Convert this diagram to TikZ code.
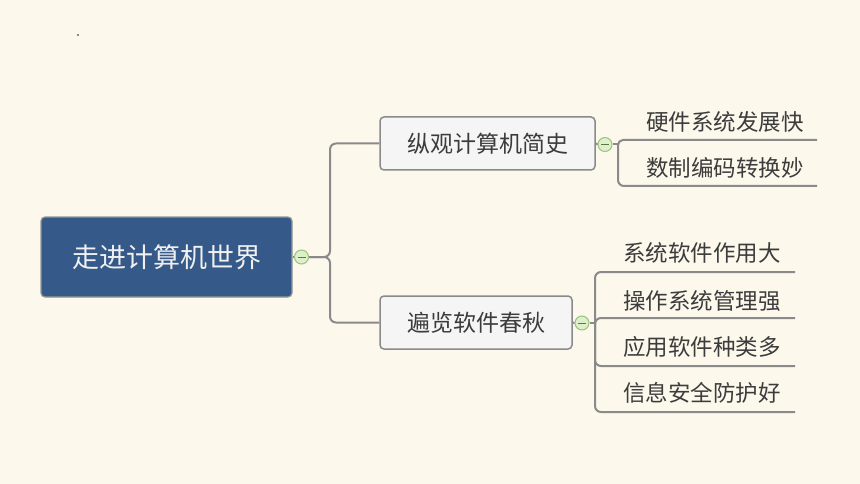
\documentclass[tikz,border=0pt]{standalone}
\usepackage{fontspec}
\setmainfont{Noto Sans CJK SC}
\definecolor{bg}{HTML}{FDF8EC}
\definecolor{rootblue}{HTML}{355A89}
\definecolor{linegray}{HTML}{8A8A8A}
\definecolor{boxfill}{HTML}{F5F5F5}
\definecolor{txt}{HTML}{3C3C3C}
\definecolor{cfill}{HTML}{DDEFCB}
\definecolor{cborder}{HTML}{9CC27C}
\begin{document}
\begin{tikzpicture}[x=1pt,y=-1pt,
  rootbox/.style={draw=linegray!90, line width=1.2pt, fill=rootblue, rounded corners=4pt,
    minimum width=251pt, minimum height=80pt, text=white!94!black,
    font=\fontsize{27}{32}\selectfont, inner sep=0pt},
  topicbox/.style={draw=linegray, line width=1.5pt, fill=boxfill, rounded corners=4pt,
    minimum height=53pt, text=txt, font=\fontsize{23}{28}\selectfont, inner sep=0pt},
  leaf/.style={anchor=west, text=txt, font=\fontsize{22.5}{27}\selectfont, inner sep=0pt},
  toggle/.style={circle, draw=cborder, fill=cfill, line width=1pt, minimum size=14pt, inner sep=0pt,
    path picture={\draw[cborder!60!black, line width=0.9pt]
      ([xshift=-4pt]path picture bounding box.center) -- ([xshift=4pt]path picture bounding box.center);}},
  conn/.style={draw=linegray, line width=2pt, rounded corners=6pt}
]
\fill[bg] (0,0) rectangle (860,484);
\useasboundingbox (0,0) rectangle (860,484);
\fill[linegray] (77,34) rectangle (79,36);

\node[rootbox] (root) at (166.5,257) {走进计算机世界};
\node[toggle] (c0) at (301.5,257) {};
\node[topicbox, minimum width=215pt] (t1) at (487.5,143.5) {纵观计算机简史};
\node[toggle] (c1) at (605,144.5) {};
\node[topicbox, minimum width=192pt] (t2) at (476,322.5) {遍览软件春秋};
\node[toggle] (c2) at (582,323) {};

\node[leaf] (l1) at (646,122) {硬件系统发展快};
\node[leaf] (l2) at (646,168) {数制编码转换妙};
\node[leaf] (l3) at (623,253) {系统软件作用大};
\node[leaf] (l4) at (623,301) {操作系统管理强};
\node[leaf] (l5) at (623,347) {应用软件种类多};
\node[leaf] (l6) at (623,393) {信息安全防护好};

\coordinate (j0) at (330,257);
\coordinate (j1) at (618,146);
\coordinate (j2) at (595,323);
\coordinate (e1) at (817,140);
\coordinate (e2) at (817,186);
\coordinate (e3) at (795,272);
\coordinate (e4) at (795,318);
\coordinate (e5) at (795,366);
\coordinate (e6) at (795,412);

\draw[conn] (root.east) -- (c0.west);
\draw[conn] (c0.east) -- (j0) |- (t1.west);
\draw[conn] (c0.east) -- (j0) |- (t2.west);
\draw[conn] (t1.east) -- (c1.west);
\draw[conn] (t2.east) -- (c2.west);
\draw[conn] (c1.east) -- (c1.east -| j1);
\draw[conn, rounded corners=5pt] (c1.east -| j1) |- (e1);
\draw[conn] (c1.east -| j1) |- (e2);
\draw[conn] (c2.east) -- (j2);
\draw[conn] (j2) |- (e3);
\draw[conn] (j2) |- (e4);
\draw[conn] (j2) |- (e5);
\draw[conn] (j2) |- (e6);
\end{tikzpicture}
\end{document}
